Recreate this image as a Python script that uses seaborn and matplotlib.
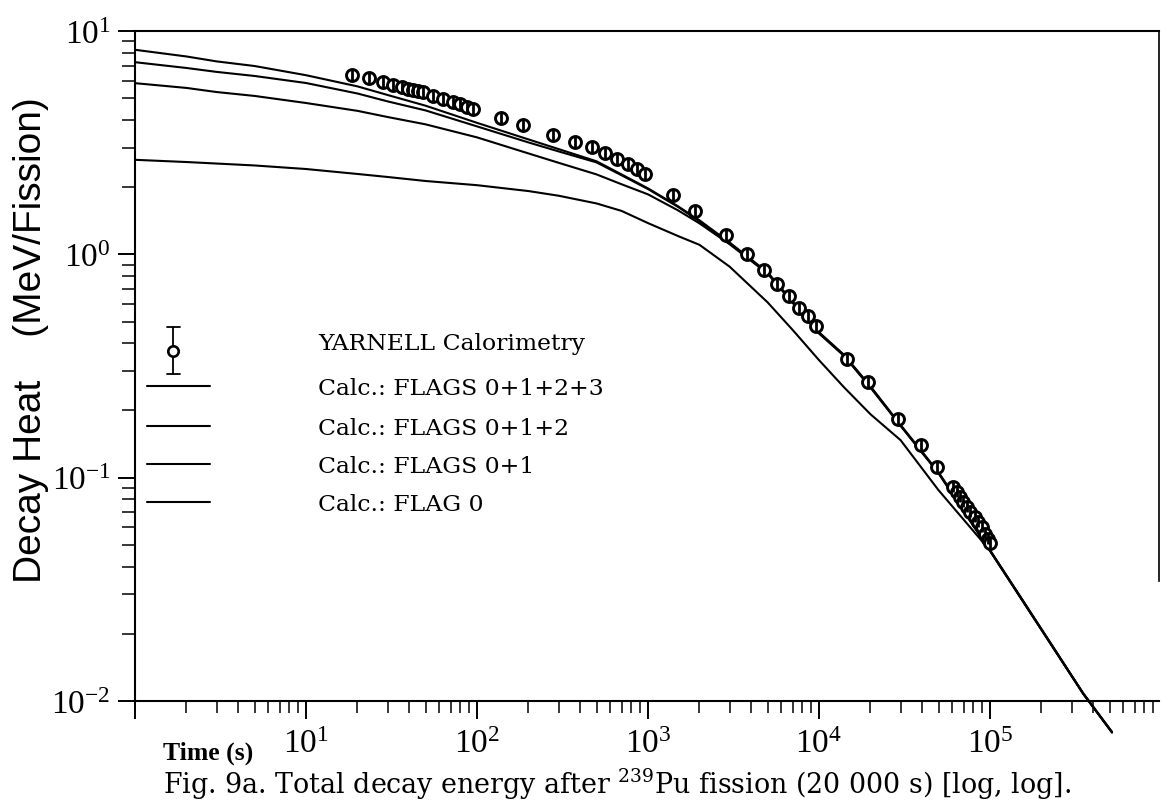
import numpy as np
import pandas as pd
import matplotlib
matplotlib.use("Agg")
import matplotlib.pyplot as plt
import seaborn as sns
from matplotlib.ticker import FixedLocator, FuncFormatter, NullFormatter

# ---------------- data ----------------
time_grid = [1, 2, 3, 5, 10, 20, 30, 50, 100, 200, 300, 500, 700, 1000, 1500, 2000, 3000,
             5000, 7000, 1e4, 1.4e4, 2e4, 3e4, 5e4, 1e5, 2e5, 3.5e5, 5.17e5]
flags_0123 = [8.24, 7.69, 7.31, 6.97, 6.34, 5.65, 5.17, 4.63, 3.88, 3.27, 2.96, 2.61, 2.28,
              1.974, 1.64, 1.42, 1.13, 0.831, 0.616, 0.448, 0.355, 0.2566, 0.1722, 0.1058,
              0.0474, 0.0210, 0.01086, 0.00727]
flags_012 = [7.25, 6.83, 6.56, 6.29, 5.85, 5.25, 4.84, 4.41, 3.74, 3.17, 2.89, 2.58, 2.26,
             1.96, 1.63, 1.405, 1.12, 0.825, 0.612, 0.445, 0.353, 0.255, 0.171, 0.1052,
             0.0472, 0.0209, 0.01083, 0.00725]
flags_01 = [5.84, 5.56, 5.33, 5.12, 4.76, 4.39, 4.12, 3.82, 3.34, 2.83, 2.57, 2.28, 2.06,
            1.856, 1.573, 1.376, 1.11, 0.82, 0.607, 0.442, 0.351, 0.253, 0.1707, 0.1045,
            0.0470, 0.0208, 0.0108, 0.00723]
flag_0 = [2.65, 2.59, 2.55, 2.50, 2.41, 2.29, 2.22, 2.13, 2.04, 1.92, 1.83, 1.69, 1.565,
          1.38, 1.207, 1.103, 0.881, 0.610, 0.4595, 0.336, 0.254, 0.1923, 0.1472, 0.0879,
          0.0472, 0.0209, 0.0108, 0.00723]

yarnell_t = [18.5, 23.4, 28.1, 32.4, 36.3, 39.7, 42.4, 45.4, 48.5, 55.5, 63.5, 72.7, 79.5,
             87, 94.4, 139, 187, 279, 374, 469, 561, 656, 767, 859, 960, 1406, 1883, 2860,
             3810, 4790, 5700, 6680, 7670, 8650, 9570, 14500, 19400, 29100, 39400, 49200,
             61000, 63800, 66800, 69900, 73100, 76400, 81700, 85500, 89400, 93500, 97800,
             100000]
yarnell_v = [6.37, 6.15, 5.90, 5.76, 5.61, 5.51, 5.46, 5.36, 5.32, 5.09, 4.94, 4.80, 4.69,
             4.59, 4.49, 4.07, 3.80, 3.44, 3.20, 3.02, 2.84, 2.68, 2.55, 2.42, 2.28, 1.84,
             1.56, 1.22, 1.007, 0.848, 0.734, 0.649, 0.575, 0.528, 0.478, 0.341, 0.267,
             0.184, 0.140, 0.112, 0.0910, 0.0865, 0.0821, 0.0779, 0.0740, 0.0703, 0.0668,
             0.0634, 0.0602, 0.0562, 0.0534, 0.0508]

legend_labels = ["YARNELL Calorimetry", "Calc.: FLAGS 0+1+2+3", "Calc.: FLAGS 0+1+2",
                 "Calc.: FLAGS 0+1", "Calc.: FLAG 0"]
x_tick_exps = [1, 2, 3, 4, 5]
y_label = "Decay Heat    (MeV/Fission)"
x_label = "Time (s)"
caption = "Fig. 9a. Total decay energy after $^{\\mathregular{239}}$Pu fission (20 000 s) [log, log]."

# ---------------- style ----------------
sns.set_style("ticks")
plt.rcParams["font.family"] = ["Liberation Serif", "DejaVu Serif"]
plt.rcParams["mathtext.fontset"] = "custom"
plt.rcParams["mathtext.rm"] = "Liberation Serif"
plt.rcParams["axes.linewidth"] = 1.5

W, H = 1161, 812
fig = plt.figure(figsize=(W / 100, H / 100), dpi=100)
fig.patch.set_facecolor("white")
L, R, T, B = 135, 1159, 32, 702
ax = fig.add_axes([L / W, 1 - B / H, (R - L) / W, (B - T) / H])
ax.set_facecolor("white")

n = len(time_grid)
curves = pd.DataFrame({
    "t": time_grid * 4,
    "v": flags_0123 + flags_012 + flags_01 + flag_0,
    "calc": ["0+1+2+3"] * n + ["0+1+2"] * n + ["0+1"] * n + ["0"] * n,
})
sns.lineplot(data=curves, x="t", y="v", units="calc", estimator=None, sort=False,
             color="black", linewidth=1.5, clip_on=False, ax=ax, legend=False)

pts = pd.DataFrame({"t": yarnell_t, "v": yarnell_v})
sns.scatterplot(data=pts, x="t", y="v", marker="o", s=74, facecolor="white",
                edgecolor="black", linewidth=2.1, ax=ax, legend=False, zorder=4)
sns.scatterplot(data=pts, x="t", y="v", marker="|", s=62, color="black",
                linewidth=2.0, ax=ax, legend=False, zorder=5)

ax.set_xscale("log")
ax.set_yscale("log")
ax.set_xlim(1, 10 ** ((R - L) / 171.0))
ax.set_ylim(0.01, 10)
ax.set_xlabel("")
ax.set_ylabel("")

ax.xaxis.set_major_locator(FixedLocator([10.0 ** k for k in range(0, 7)]))
ax.xaxis.set_major_formatter(FuncFormatter(
    lambda v, p: (r"$\mathdefault{10^{%d}}$" % round(np.log10(v)))
    if round(np.log10(v)) in x_tick_exps else ""))
ax.xaxis.set_minor_locator(FixedLocator([m * 10.0 ** k for k in range(0, 6) for m in range(2, 10)]))
ax.xaxis.set_minor_formatter(NullFormatter())
ax.yaxis.set_major_locator(FixedLocator([0.01, 0.1, 1, 10]))
ax.yaxis.set_major_formatter(FuncFormatter(
    lambda v, p: r"$\mathdefault{10^{%d}}$" % round(np.log10(v))))
ax.yaxis.set_minor_locator(FixedLocator([m * 10.0 ** k for k in range(-2, 1) for m in range(2, 10)]))
ax.yaxis.set_minor_formatter(NullFormatter())

ax.tick_params(axis="x", which="major", direction="out", length=13, width=1.4, pad=7,
               labelsize=24, colors="black")
ax.tick_params(axis="x", which="minor", direction="out", length=8.5, width=1.3)
ax.tick_params(axis="y", which="major", direction="out", length=12.5, width=1.4, pad=5,
               labelsize=24, colors="black")
ax.tick_params(axis="y", which="minor", direction="out", length=9.5, width=1.3)
for s in ax.spines.values():
    s.set_color("black")
    s.set_linewidth(1.5)
ax.spines["right"].set_bounds(0.0344, 10)
ax.spines["right"].set_linewidth(1.2)

# ---------------- legend (drawn manually) ----------------
def axpt(px, py):
    return (px - L) / (R - L), (B - py) / (B - T)

tr = ax.transAxes
mx, my = axpt(173.3, 351.7)
_, ytop = axpt(0, 328)
_, ybot = axpt(0, 375)
cap = 6.5 / (R - L)
ax.plot([mx, mx], [ybot, ytop], color="black", lw=1.3, transform=tr, clip_on=False)
ax.plot([mx - cap, mx + cap], [ytop, ytop], color="black", lw=1.3, transform=tr, clip_on=False)
ax.plot([mx - cap, mx + cap], [ybot, ybot], color="black", lw=1.3, transform=tr, clip_on=False)
ax.plot([mx], [my], marker="o", ms=7.5, mfc="white", mec="black", mew=1.9,
        transform=tr, clip_on=False)

line_rows = [387, 427, 465, 503]
x0, _ = axpt(147, 0)
x1, _ = axpt(210, 0)
for py in line_rows:
    _, yy = axpt(0, py)
    ax.plot([x0, x1], [yy, yy], color="black", lw=1.5, transform=tr, clip_on=False)

text_rows = [342] + line_rows
tx, _ = axpt(318, 0)
leg_texts = []
for lab, py in zip(legend_labels, text_rows):
    _, yy = axpt(0, py + 8)
    leg_texts.append(ax.text(tx, yy, lab, transform=tr, ha="left", va="baseline",
                             fontsize=16.5, family=["DejaVu Serif", "DejaVu Sans"],
                             color="black"))

# ---------------- labels ----------------
fig.text(31 / W, 1 - 340 / H, y_label, rotation=90, ha="center", va="center",
         fontsize=28, family=["Liberation Sans", "DejaVu Sans"], color="black")
fig.text(163 / W, 1 - 760 / H, x_label, ha="left", va="baseline", fontsize=18.5,
         fontweight="bold", family=["Liberation Serif", "DejaVu Serif"], color="black")
cap_txt = fig.text(163 / W, 1 - 794 / H, caption, ha="left", va="baseline",
                   fontsize=19, family=["DejaVu Serif", "DejaVu Sans"], color="black")

# fit text widths to the reference
fig.canvas.draw()
rend = fig.canvas.get_renderer()
w = cap_txt.get_window_extent(rend).width
cap_txt.set_fontsize(19 * 907.0 / w)
w = leg_texts[1].get_window_extent(rend).width
fs = 16.5 * 284.0 / w
for t in leg_texts:
    t.set_fontsize(fs)

fig.savefig("out.png", dpi=100, facecolor="white")
